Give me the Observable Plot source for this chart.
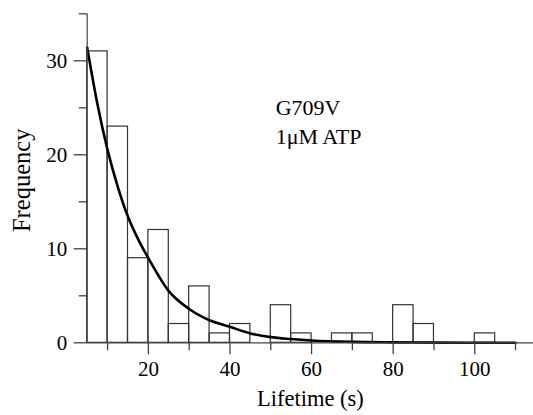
<!DOCTYPE html>
<html>
<head>
<meta charset="utf-8">
<script src="https://cdn.jsdelivr.net/npm/d3@7"></script>
<script src="https://cdn.jsdelivr.net/npm/@observablehq/plot@0.6"></script>
<style>
  html, body { margin: 0; padding: 0; background: #fff; }
  #chart svg { display: block; }
  #chart svg, #chart svg g, #chart svg text {
    font-family: "Liberation Serif", "Times New Roman", serif !important;
    font-variant: normal !important;
    font-variant-numeric: normal !important;
  }
</style>
</head>
<body>
<div id="chart"></div>
<script>
// Histogram bins (s) and counts
const binStart = [5,10,15,20,25,30,35,40,45,50,55,60,65,70,75,80,85,90,95,100,105];
const counts   = [31,23,9,12,2,6,1,2,0,4,1,0,1,1,0,4,2,0,0,1,0];
const binWidth = 5;

// Fitted exponential curve
const fitT = [5,7.5,10,12.5,15,17.5,20,25,30,35,40,45,50,55,60,70,80,90,100,110];
const fitY = [31.4,25.4,20.5,16.6,13.4,11.0,9.0,5.5,3.6,2.4,1.7,1.0,0.6,0.4,0.25,0.1,0.05,0.02,0.01,0];

// Ticks
const xMajor = [20,40,60,80,100];
const xMinor = [10,30,50,70,90,110];
const yMajor = [0,10,20,30];
const yMinor = [5,15,25,35];

const annotation = ["G709V", "1μM ATP"];

const bars = binStart.map((s, i) => ({x1: s, x2: s + binWidth, y: counts[i]})).filter(d => d.y > 0);
const fit = fitT.map((t, i) => ({t, y: fitY[i]}));

const font = "Liberation Serif, Times New Roman, serif";
const axisColor = "#444";

const chart = Plot.plot({
  width: 533,
  height: 415,
  marginLeft: 86.7,
  marginRight: 0,
  marginTop: 13.3,
  marginBottom: 72.7,
  style: {fontFamily: font, fontSize: "21px", color: "#000", background: "#fff"},
  x: {domain: [5, 114.4]},
  y: {domain: [0, 35]},
  marks: [
    Plot.rectY(bars, {x1: "x1", x2: "x2", y: "y", fill: "none", stroke: "#333", strokeWidth: 1.2}),
    Plot.line(fit, {x: "t", y: "y", stroke: "#000", strokeWidth: 2.6, curve: "monotone-x"}),
    Plot.ruleY([0], {stroke: axisColor, strokeWidth: 1.2}),
    Plot.ruleX([5], {y1: 0, y2: 35, stroke: axisColor, strokeWidth: 1.2}),
    Plot.axisY(yMajor, {tickSize: 13, text: null, stroke: axisColor, strokeWidth: 1.3, label: null}),
    Plot.axisY(yMinor, {tickSize: 8, text: null, stroke: axisColor, strokeWidth: 1.3, label: null}),
    Plot.axisX(xMajor, {tickSize: 12, text: null, stroke: axisColor, strokeWidth: 1.3, label: null}),
    Plot.axisX(xMinor, {tickSize: 8, text: null, stroke: axisColor, strokeWidth: 1.3, label: null}),
    Plot.text(yMajor, {x: 5, y: d => d, text: d => String(d), textAnchor: "end", dx: -20, fontSize: 21, fontFamily: font}),
    Plot.text(xMajor, {x: d => d, y: 0, text: d => String(d), lineAnchor: "top", dy: 18, fontSize: 21, fontFamily: font}),
    Plot.text(["Lifetime (s)"], {frameAnchor: "bottom", dy: 47, lineAnchor: "top", fontSize: 22.5, fontFamily: font, text: d => d}),
    Plot.text(["Frequency"], {frameAnchor: "left", textAnchor: "middle", dx: -65, dy: 2, rotate: -90, lineAnchor: "middle", fontSize: 24.5, fontFamily: font, text: d => d}),
    Plot.text(annotation, {x: 51.2, y: (d, i) => 24.2 - i * 3.0, text: d => d, textAnchor: "start", lineAnchor: "bottom", fontSize: 22, fontFamily: font})
  ]
});

document.getElementById("chart").appendChild(chart);
</script>
</body>
</html>
